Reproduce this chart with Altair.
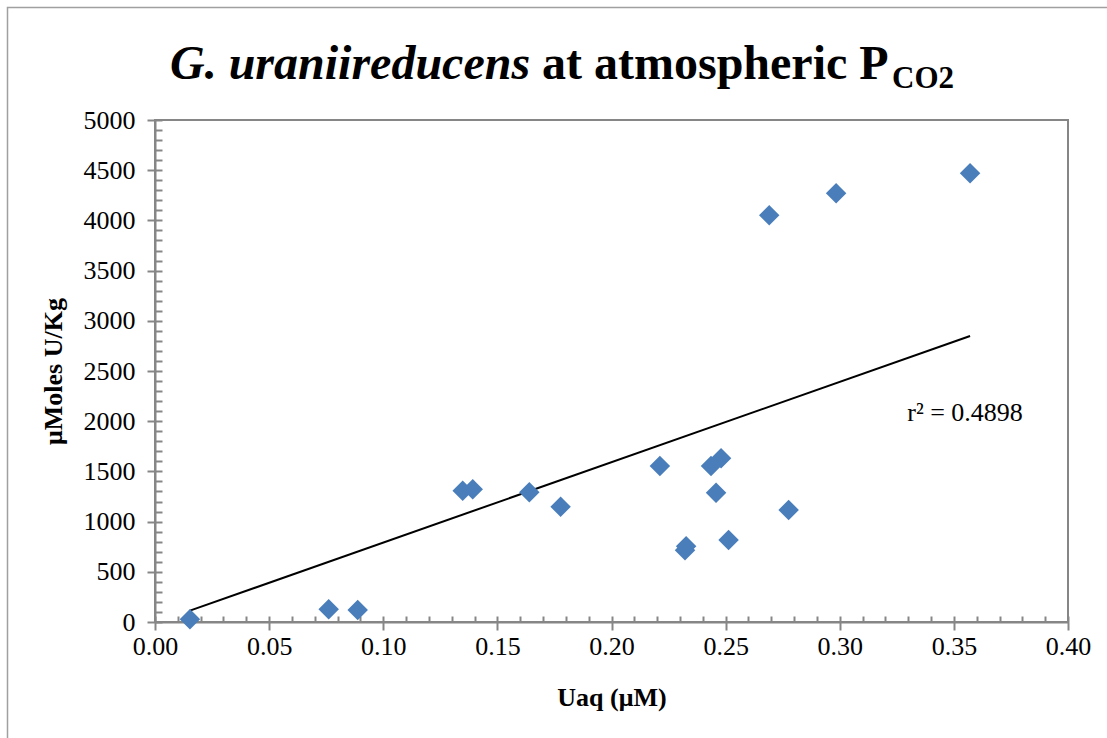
import altair as alt
import pandas as pd

# ---- data ----
uaq = [0.0153, 0.0761, 0.0888, 0.1348, 0.1392, 0.1640, 0.1777, 0.2212, 0.2436,
       0.2480, 0.2458, 0.2327, 0.2322, 0.2513, 0.2776, 0.2691, 0.2984, 0.3571]
umol = [27, 126, 120, 1308, 1322, 1292, 1148, 1554, 1554,
        1630, 1288, 755, 715, 817, 1116, 4051, 4270, 4469]

trend_x = [0.0153, 0.3571]
trend_y = [113, 2849]

r2_text = ["r\u00b2 = 0.4898"]
r2_pos_x = [0.3549]
r2_pos_y = [2082]

title_italic = ["G. uraniireducens"]
title_plain = ["at atmospheric P"]
title_sub = ["CO2"]

x_major = [0.0, 0.05, 0.10, 0.15, 0.20, 0.25, 0.30, 0.35, 0.40]
x_minor = [round(i * 0.01, 2) for i in range(41)]
y_major = [0, 500, 1000, 1500, 2000, 2500, 3000, 3500, 4000, 4500, 5000]
y_minor = [i * 100 for i in range(51)]

pts = pd.DataFrame({"Uaq": uaq, "U": umol})
trend = pd.DataFrame({"Uaq": trend_x, "U": trend_y})
r2 = pd.DataFrame({"Uaq": r2_pos_x, "U": r2_pos_y, "t": r2_text})

FONT = "Liberation Serif"
GRAY = "#868686"
W, H = 913, 502

xscale = alt.Scale(domain=[0, 0.4], nice=False, zero=False)
yscale = alt.Scale(domain=[0, 5000], nice=False)

x_axis_main = alt.Axis(orient="bottom", values=x_major, format=".2f", tickSize=8,
                       tickColor=GRAY, tickWidth=2, domainColor=GRAY, domainWidth=2,
                       labelFont=FONT, labelFontSize=26, labelColor="black", labelPadding=3,
                       labelFlush=False, labelOverlap=False,
                       grid=False, title="Uaq (\u03bcM)", titleFont=FONT, titleFontSize=26,
                       titleFontWeight="bold", titleColor="black", titleY=75,
                       titleBaseline="middle")
y_axis_main = alt.Axis(orient="left", values=y_major, format="d", tickSize=8,
                       tickColor=GRAY, tickWidth=2, domainColor=GRAY, domainWidth=2,
                       labelFont=FONT, labelFontSize=26, labelColor="black", labelPadding=12,
                       labelFlush=False, labelOverlap=False,
                       grid=False, title="\u03bcMoles U/Kg", titleFont=FONT, titleFontSize=26,
                       titleFontWeight="bold", titleColor="black", titleX=-102,
                       titleY=H / 2, titleAlign="center", titleBaseline="middle", titleAngle=270)
x_axis_minor = alt.Axis(orient="bottom", values=x_minor, tickSize=6, offset=-6,
                        tickColor=GRAY, tickWidth=2, domain=False, labels=False,
                        grid=False, title=None)
y_axis_minor = alt.Axis(orient="left", values=y_minor, tickSize=7, offset=-7,
                        tickColor=GRAY, tickWidth=2, domain=False, labels=False,
                        grid=False, title=None)

points = alt.Chart(pts).mark_point(shape="diamond", filled=True, size=420,
                                   color="#4a7ebb", opacity=1).encode(
    x=alt.X("Uaq:Q", scale=xscale, axis=x_axis_main),
    y=alt.Y("U:Q", scale=yscale, axis=y_axis_main),
)

line = alt.Chart(trend).mark_line(color="black", strokeWidth=2).encode(
    x=alt.X("Uaq:Q", scale=xscale, axis=x_axis_minor),
    y=alt.Y("U:Q", scale=yscale, axis=y_axis_minor),
)

r2_label = alt.Chart(r2).mark_text(font=FONT, fontSize=26, color="black",
                                   align="center", baseline="middle").encode(
    x=alt.X("Uaq:Q", scale=xscale, axis=None),
    y=alt.Y("U:Q", scale=yscale, axis=None),
    text="t:N",
)

frame = alt.Chart(pd.DataFrame({"k": [0]})).mark_rect(
    fillOpacity=0, stroke="#a0a0a0", strokeWidth=1.5).encode(
    x=alt.value(-147.5), x2=alt.value(990), y=alt.value(-112.5), y2=alt.value(700))

t1 = alt.Chart(pd.DataFrame({"t": title_italic})).mark_text(
    font=FONT, fontSize=48, fontWeight="bold", fontStyle="italic", color="black",
    align="left", baseline="alphabetic").encode(
    x=alt.value(15), y=alt.value(-41), text="t:N")
t2 = alt.Chart(pd.DataFrame({"t": title_plain})).mark_text(
    font=FONT, fontSize=48, fontWeight="bold", color="black",
    align="left", baseline="alphabetic").encode(
    x=alt.value(387), y=alt.value(-41), text="t:N")
t3 = alt.Chart(pd.DataFrame({"t": title_sub})).mark_text(
    font=FONT, fontSize=31, fontWeight="bold", color="black",
    align="left", baseline="alphabetic").encode(
    x=alt.value(737), y=alt.value(-32), text="t:N")

chart = alt.layer(frame, line, points, r2_label, t1, t2, t3).resolve_axis(
    x="independent", y="independent"
).properties(
    width=W, height=H,
    padding={"left": 155, "top": 120, "right": 39, "bottom": 116},
    autosize=alt.AutoSizeParams(type="none"),
    background="white",
).configure_view(stroke=GRAY, strokeWidth=2)

chart.save("out.html", embed_options={"renderer": "svg", "actions": False})
